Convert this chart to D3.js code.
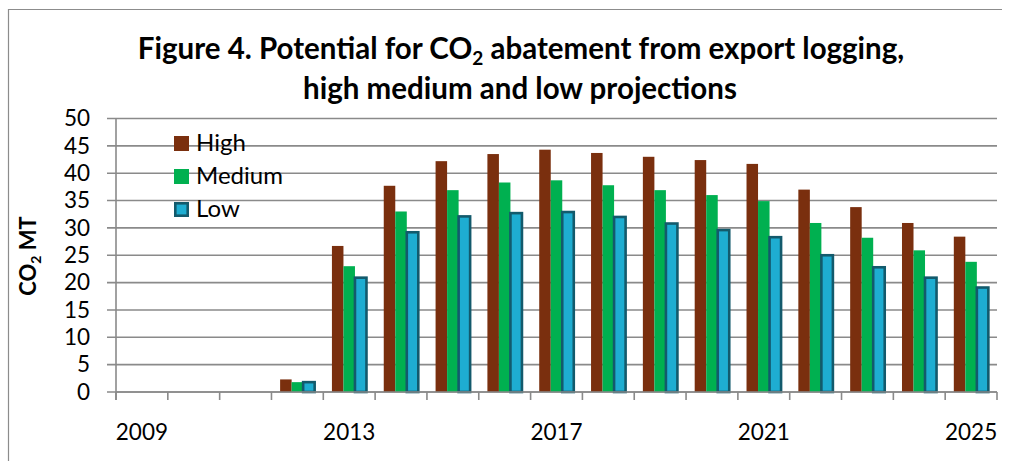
<!DOCTYPE html>
<html>
<head>
<meta charset="utf-8">
<script src="https://cdn.jsdelivr.net/npm/d3@7"></script>
<style>
  html, body { margin: 0; padding: 0; background: #fff; }
  svg { display: block; font-family: Lato, "Open Sans", sans-serif; }
</style>
</head>
<body>
<svg id="chart" width="1011" height="461"></svg>
<script>
// Potential CO2 abatement (MT) per year under three projections
const years = ["2009","2010","2011","2012","2013","2014","2015","2016","2017",
               "2018","2019","2020","2021","2022","2023","2024","2025"];
const high   = [null,null,null,2.3,26.7,37.7,42.2,43.5,44.3,43.7,43.0,42.4,41.7,37.0,33.8,30.9,28.4];
const medium = [null,null,null,1.8,23.0,33.0,36.9,38.3,38.7,37.8,36.9,36.0,34.9,30.9,28.2,25.9,23.8];
const low    = [null,null,null,1.8,20.9,29.2,32.1,32.7,32.9,32.0,30.8,29.6,28.3,25.0,22.8,20.9,19.1];
const seriesNames = ["High","Medium","Low"];
const yTicks = [0,5,10,15,20,25,30,35,40,45,50];
const xTickLabels = ["2009","2013","2017","2021","2025"];

const styles = {
  High:   { fill: "#7a2f0e", stroke: "none", sw: 0 },
  Medium: { fill: "#00b050", stroke: "none", sw: 0 },
  Low:    { fill: "#1eadd1", stroke: "#135a6c", sw: 2.6 }
};
const values = { High: high, Medium: medium, Low: low };

const svg = d3.select("#chart");
const plot = { left: 116, right: 997, top: 118.5, bottom: 392 };
const gridColor = "#8a8a8a";

// Outer chart frame (left and top edges)
svg.append("path")
  .attr("d", "M8.5,470 L8.5,9.5 L1002,9.5")
  .attr("fill", "none").attr("stroke", "#8c8c8c").attr("stroke-width", 1.2);

// Title
const title = svg.append("g").attr("font-weight", "bold").attr("font-size", 29.5)
  .attr("text-anchor", "middle").attr("fill", "#000");
const t1 = title.append("text").attr("x", 521).attr("y", 59);
t1.append("tspan").text("Figure 4. Potential for CO");
t1.append("tspan").text("2").attr("font-size", 19).attr("dy", 6);
t1.append("tspan").text(" abatement from export logging,").attr("dy", -6);
title.append("text").attr("x", 520).attr("y", 99).text("high medium and low projections");

// Scales
const x0 = d3.scaleBand().domain(years).range([plot.left, plot.right]).padding(0);
const x1 = d3.scaleBand().domain(seriesNames).range([0, x0.bandwidth()])
  .paddingInner(0).paddingOuter(0.75);
const y = d3.scaleLinear().domain([0, 50]).range([plot.bottom, plot.top]);

// Horizontal gridlines
svg.append("g").selectAll("line").data(yTicks).join("line")
  .attr("x1", plot.left - 9).attr("x2", plot.right)
  .attr("y1", d => y(d)).attr("y2", d => y(d))
  .attr("stroke", gridColor).attr("stroke-width", 1.6);

// Y axis
const yAxis = svg.append("g").attr("transform", `translate(${plot.left},0)`)
  .call(d3.axisLeft(y).tickValues(yTicks).tickSize(0).tickPadding(26));
yAxis.select(".domain").remove();
yAxis.append("line").attr("x1", 0).attr("x2", 0)
  .attr("y1", plot.top).attr("y2", plot.bottom + 8)
  .attr("stroke", gridColor).attr("stroke-width", 1.6);
yAxis.selectAll("text").attr("font-size", 22.5).attr("fill", "#000")
  .attr("font-family", "Lato, sans-serif");

// Y axis title
const yt = svg.append("text")
  .attr("transform", "translate(36,256) rotate(-90)")
  .attr("text-anchor", "middle").attr("font-weight", "bold").attr("font-size", 22);
yt.append("tspan").text("CO");
yt.append("tspan").text("2").attr("font-size", 14).attr("dy", 5);
yt.append("tspan").text(" MT").attr("dy", -5);

// Bars
const groups = svg.append("g").selectAll("g").data(years).join("g")
  .attr("transform", d => `translate(${x0(d)},0)`);
groups.selectAll("rect")
  .data((yr, i) => seriesNames.map(s => ({ s, v: values[s][i] })).filter(d => d.v != null))
  .join("rect")
  .attr("x", d => x1(d.s))
  .attr("width", x1.bandwidth())
  .attr("y", d => y(d.v))
  .attr("height", d => y(0) - y(d.v))
  .attr("fill", d => styles[d.s].fill)
  .attr("stroke", d => styles[d.s].stroke)
  .attr("stroke-width", d => styles[d.s].sw);

// X axis line and category boundary ticks
const xAxisG = svg.append("g");
xAxisG.append("line").attr("x1", plot.left).attr("x2", plot.right)
  .attr("y1", plot.bottom).attr("y2", plot.bottom)
  .attr("stroke", gridColor).attr("stroke-width", 1.6);
const bounds = years.map(d => x0(d)).concat([plot.right]);
xAxisG.selectAll("line.tick").data(bounds).join("line").attr("class", "tick")
  .attr("x1", d => d).attr("x2", d => d)
  .attr("y1", plot.bottom).attr("y2", plot.bottom + 8)
  .attr("stroke", gridColor).attr("stroke-width", 1.6);

const xLabels = svg.append("g").attr("transform", `translate(0,${plot.bottom})`)
  .call(d3.axisBottom(x0).tickValues(xTickLabels).tickSize(0).tickPadding(32));
xLabels.select(".domain").remove();
xLabels.selectAll("text").attr("font-size", 22.5).attr("fill", "#000")
  .attr("font-family", "Lato, sans-serif");

// Legend
const legend = svg.append("g").attr("transform", "translate(174,136)");
const li = legend.selectAll("g").data(seriesNames).join("g")
  .attr("transform", (d, i) => `translate(0,${i * 33})`);
li.append("rect")
  .attr("x", d => styles[d].sw ? 1.3 : 0).attr("y", d => styles[d].sw ? 1.3 : 0)
  .attr("width", d => styles[d].sw ? 12.4 : 15).attr("height", d => styles[d].sw ? 12.4 : 15)
  .attr("fill", d => styles[d].fill).attr("stroke", d => styles[d].stroke)
  .attr("stroke-width", d => styles[d].sw);
li.append("text").attr("x", 22).attr("y", 15).attr("font-size", 24).attr("fill", "#000")
  .text(d => d);
</script>
</body>
</html>
